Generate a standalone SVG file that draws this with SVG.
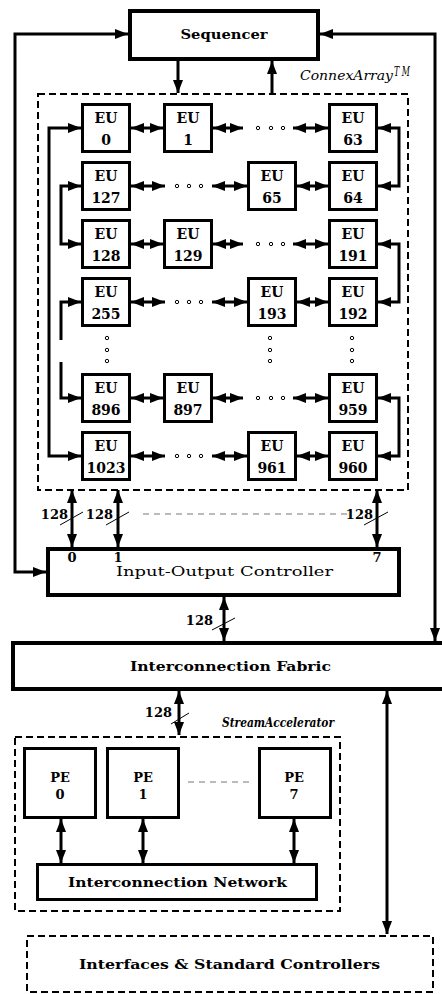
<svg xmlns="http://www.w3.org/2000/svg" width="442" height="994" viewBox="0 0 442 994">
<style>
.box{fill:#fff;stroke:#000;stroke-width:3}
.big{fill:#fff;stroke:#000;stroke-width:4}
.dash{fill:none;stroke:#000;stroke-width:2;stroke-dasharray:7 4}
.ln{fill:none;stroke:#000;stroke-width:3}
.a2{marker-start:url(#ah);marker-end:url(#ah)}
.a1{marker-end:url(#ah)}
.as{marker-start:url(#ah)}
.sl{stroke:#000;stroke-width:1}
.gd{stroke:#777;stroke-width:1;stroke-dasharray:6 5;fill:none}
.dot{fill:#fff;stroke:#000;stroke-width:1}
.t{font-family:"DejaVu Serif","Liberation Serif",serif;font-weight:bold;font-size:13px;text-anchor:middle;fill:#000}
.eu{font-family:"DejaVu Serif","Liberation Serif",serif;font-weight:bold;font-size:14px;text-anchor:middle;fill:#000}
.r{font-family:"DejaVu Serif","Liberation Serif",serif;font-size:13px;text-anchor:middle;fill:#000}
.n{font-family:"DejaVu Serif","Liberation Serif",serif;font-weight:bold;font-size:13px;text-anchor:end;fill:#000}
.it{font-family:"DejaVu Serif","Liberation Serif",serif;font-style:italic;font-size:12px;fill:#000}
</style>
<defs>
<marker id="ah" viewBox="0 0 13 10" refX="13" refY="5" markerWidth="13" markerHeight="10" markerUnits="userSpaceOnUse" orient="auto-start-reverse"><path d="M0,0 L13,5 L0,10 z" fill="#000"/></marker>
</defs>

<g id="connex">
<rect class="dash" x="38" y="94" width="370" height="396"/>
<text class="it" x="300" y="80" textLength="93" lengthAdjust="spacingAndGlyphs">ConnexArray</text>
<text class="it" x="394" y="76" font-size="10" textLength="16" lengthAdjust="spacingAndGlyphs">T M</text>
</g>

<g id="sequencer">
<rect class="big" x="130" y="11" width="188" height="48"/>
<text class="t" x="224" y="39" textLength="87" lengthAdjust="spacingAndGlyphs">Sequencer</text>
</g>

<g id="io-controller">
<rect class="big" x="48" y="549" width="351" height="46"/>
<text class="t" x="72" y="562">0</text>
<text class="t" x="118" y="562">1</text>
<text class="t" x="377" y="562">7</text>
<text class="r" x="224.5" y="576" textLength="217" lengthAdjust="spacingAndGlyphs">Input-Output Controller</text>
</g>

<g id="fabric">
<rect class="big" x="13" y="643" width="440" height="46"/>
<text class="t" x="230.5" y="671" textLength="201" lengthAdjust="spacingAndGlyphs">Interconnection Fabric</text>
</g>

<g id="eu-grid">
<g id="eu0"><rect class="box" x="82.5" y="104.5" width="47" height="47"/><text class="eu" x="106" y="123">EU</text><text class="eu" x="106" y="145">0</text></g>
<g id="eu1"><rect class="box" x="164.5" y="104.5" width="47" height="47"/><text class="eu" x="188" y="123">EU</text><text class="eu" x="188" y="145">1</text></g>
<g id="eu63"><rect class="box" x="329.5" y="104.5" width="47" height="47"/><text class="eu" x="353" y="123">EU</text><text class="eu" x="353" y="145">63</text></g>

<g id="eu127"><rect class="box" x="82.5" y="162.5" width="47" height="47"/><text class="eu" x="106" y="181">EU</text><text class="eu" x="106" y="203">127</text></g>
<g id="eu65"><rect class="box" x="248.5" y="162.5" width="47" height="47"/><text class="eu" x="272" y="181">EU</text><text class="eu" x="272" y="203">65</text></g>
<g id="eu64"><rect class="box" x="329.5" y="162.5" width="47" height="47"/><text class="eu" x="353" y="181">EU</text><text class="eu" x="353" y="203">64</text></g>

<g id="eu128"><rect class="box" x="82.5" y="220.5" width="47" height="47"/><text class="eu" x="106" y="239">EU</text><text class="eu" x="106" y="261">128</text></g>
<g id="eu129"><rect class="box" x="164.5" y="220.5" width="47" height="47"/><text class="eu" x="188" y="239">EU</text><text class="eu" x="188" y="261">129</text></g>
<g id="eu191"><rect class="box" x="329.5" y="220.5" width="47" height="47"/><text class="eu" x="353" y="239">EU</text><text class="eu" x="353" y="261">191</text></g>

<g id="eu255"><rect class="box" x="82.5" y="278.5" width="47" height="47"/><text class="eu" x="106" y="297">EU</text><text class="eu" x="106" y="319">255</text></g>
<g id="eu193"><rect class="box" x="248.5" y="278.5" width="47" height="47"/><text class="eu" x="272" y="297">EU</text><text class="eu" x="272" y="319">193</text></g>
<g id="eu192"><rect class="box" x="329.5" y="278.5" width="47" height="47"/><text class="eu" x="353" y="297">EU</text><text class="eu" x="353" y="319">192</text></g>

<g id="eu896"><rect class="box" x="82.5" y="374.5" width="47" height="47"/><text class="eu" x="106" y="393">EU</text><text class="eu" x="106" y="415">896</text></g>
<g id="eu897"><rect class="box" x="164.5" y="374.5" width="47" height="47"/><text class="eu" x="188" y="393">EU</text><text class="eu" x="188" y="415">897</text></g>
<g id="eu959"><rect class="box" x="329.5" y="374.5" width="47" height="47"/><text class="eu" x="353" y="393">EU</text><text class="eu" x="353" y="415">959</text></g>

<g id="eu1023"><rect class="box" x="82.5" y="432.5" width="47" height="47"/><text class="eu" x="106" y="451">EU</text><text class="eu" x="106" y="473">1023</text></g>
<g id="eu961"><rect class="box" x="248.5" y="432.5" width="47" height="47"/><text class="eu" x="272" y="451">EU</text><text class="eu" x="272" y="473">961</text></g>
<g id="eu960"><rect class="box" x="329.5" y="432.5" width="47" height="47"/><text class="eu" x="353" y="451">EU</text><text class="eu" x="353" y="473">960</text></g>
</g>

<g id="ellipses">
<circle class="dot" cx="258" cy="128" r="1.7"/><circle class="dot" cx="271" cy="128" r="1.7"/><circle class="dot" cx="283" cy="128" r="1.7"/>
<circle class="dot" cx="177" cy="186" r="1.7"/><circle class="dot" cx="189" cy="186" r="1.7"/><circle class="dot" cx="201" cy="186" r="1.7"/>
<circle class="dot" cx="258" cy="244" r="1.7"/><circle class="dot" cx="271" cy="244" r="1.7"/><circle class="dot" cx="283" cy="244" r="1.7"/>
<circle class="dot" cx="177" cy="302" r="1.7"/><circle class="dot" cx="189" cy="302" r="1.7"/><circle class="dot" cx="201" cy="302" r="1.7"/>
<circle class="dot" cx="258" cy="398" r="1.7"/><circle class="dot" cx="271" cy="398" r="1.7"/><circle class="dot" cx="283" cy="398" r="1.7"/>
<circle class="dot" cx="177" cy="456" r="1.7"/><circle class="dot" cx="189" cy="456" r="1.7"/><circle class="dot" cx="201" cy="456" r="1.7"/>
<circle class="dot" cx="107" cy="338" r="1.7"/><circle class="dot" cx="107" cy="350" r="1.7"/><circle class="dot" cx="107" cy="361" r="1.7"/>
<circle class="dot" cx="270" cy="338" r="1.7"/><circle class="dot" cx="270" cy="350" r="1.7"/><circle class="dot" cx="270" cy="361" r="1.7"/>
<circle class="dot" cx="352" cy="338" r="1.7"/><circle class="dot" cx="352" cy="350" r="1.7"/><circle class="dot" cx="352" cy="361" r="1.7"/>
</g>

<g id="stream-accelerator">
<rect class="dash" x="15" y="737" width="325" height="174"/>
<text class="it" x="222" y="727" font-weight="bold" font-size="11" textLength="112" lengthAdjust="spacingAndGlyphs">StreamAccelerator</text>
</g>
<g id="pe0"><rect class="box" x="24.5" y="748.5" width="71" height="69"/><text class="t" x="60" y="782">PE</text><text class="t" x="60" y="799">0</text></g>
<g id="pe1"><rect class="box" x="107.5" y="748.5" width="71" height="69"/><text class="t" x="143" y="782">PE</text><text class="t" x="143" y="799">1</text></g>
<g id="pe7"><rect class="box" x="259.5" y="748.5" width="71" height="69"/><text class="t" x="294" y="782">PE</text><text class="t" x="294" y="799">7</text></g>
<g id="icnet"><rect class="box" x="37.5" y="864.5" width="279" height="35"/><text class="t" x="177.5" y="887" textLength="219" lengthAdjust="spacingAndGlyphs">Interconnection Network</text></g>

<g id="interfaces">
<rect class="dash" x="27" y="936" width="406" height="56"/>
<text class="t" x="229.5" y="969" textLength="301" lengthAdjust="spacingAndGlyphs">Interfaces &amp; Standard Controllers</text>
</g>

<g id="connectors">
<path class="ln a2" d="M128,34 H15 V572 H46"/>
<path class="ln a2" d="M320,34 H435 V641"/>
<path class="ln a1" d="M178,61 V93"/>
<path class="ln a1" d="M272,93 V61"/>

<path class="ln a2" d="M131,128 H163"/><path class="ln a2" d="M213,128 H243"/><path class="ln a2" d="M293,128 H328"/>
<path class="ln a2" d="M131,186 H165"/><path class="ln a2" d="M212,186 H247"/><path class="ln a2" d="M297,186 H328"/>
<path class="ln a2" d="M131,244 H163"/><path class="ln a2" d="M213,244 H243"/><path class="ln a2" d="M293,244 H328"/>
<path class="ln a2" d="M131,302 H165"/><path class="ln a2" d="M212,302 H247"/><path class="ln a2" d="M297,302 H328"/>
<path class="ln a2" d="M131,398 H163"/><path class="ln a2" d="M213,398 H243"/><path class="ln a2" d="M293,398 H328"/>
<path class="ln a2" d="M131,456 H165"/><path class="ln a2" d="M212,456 H247"/><path class="ln a2" d="M297,456 H328"/>

<path class="ln a2" d="M378,128 H399 V186 H378"/>
<path class="ln a2" d="M81,186 H61 V244 H81"/>
<path class="ln a2" d="M378,244 H399 V302 H378"/>
<path class="ln as" d="M81,302 H61 V340"/>
<path class="ln a1" d="M61,362 V398 H81"/>
<path class="ln a2" d="M378,398 H399 V456 H378"/>
<path class="ln a2" d="M81,128 H49 V456 H81"/>

<path class="ln a2" d="M72,490 V547"/>
<path class="ln a2" d="M118,490 V547"/>
<path class="ln a2" d="M377,490 V547"/>
<line class="gd" x1="143" y1="514" x2="350" y2="514"/>
<line class="sl" x1="60" y1="525" x2="83" y2="512"/>
<line class="sl" x1="106" y1="525" x2="129" y2="512"/>
<line class="sl" x1="364" y1="525" x2="388" y2="512"/>
<text class="n" x="68" y="519">128</text>
<text class="n" x="113" y="519">128</text>
<text class="n" x="373" y="519">128</text>

<path class="ln a2" d="M224,597 V641"/>
<line class="sl" x1="212" y1="630" x2="235" y2="618"/>
<text class="n" x="213" y="625">128</text>

<path class="ln a2" d="M179,691 V735"/>
<line class="sl" x1="171" y1="724" x2="189" y2="713"/>
<text class="n" x="172" y="717">128</text>

<path class="ln a2" d="M387,691 V934"/>

<path class="ln a2" d="M61,819 V863"/>
<path class="ln a2" d="M143,819 V863"/>
<path class="ln a2" d="M294,819 V863"/>
<line class="gd" x1="188" y1="782" x2="250" y2="782"/>
</g>
</svg>
